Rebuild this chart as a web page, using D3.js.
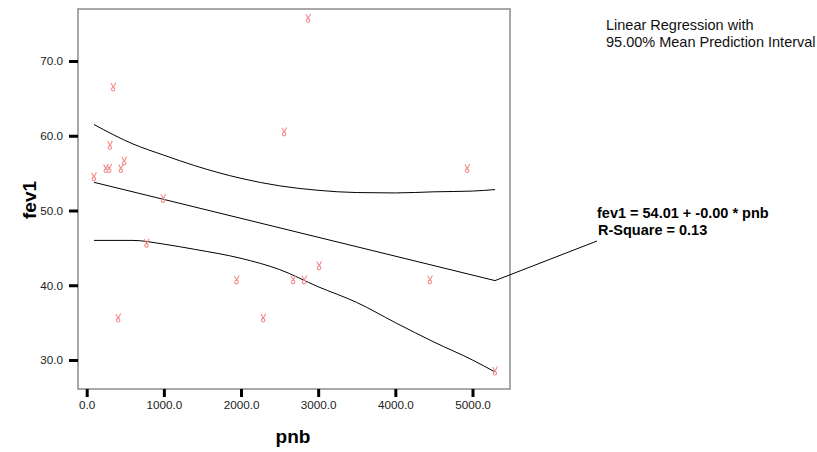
<!DOCTYPE html>
<html>
<head>
<meta charset="utf-8">
<script src="https://cdn.jsdelivr.net/npm/d3@7"></script>
<style>
  body { margin: 0; background: #fff; }
  svg { display: block; }
  text { font-family: "Liberation Sans", Arial, Helvetica, sans-serif; }
</style>
</head>
<body>
<svg id="chart" width="817" height="452"></svg>
<script>
// Observations: GNP per capita (pnb) against FEV1
const pnb  = [95, 250, 293, 302, 345, 410, 445, 487, 778, 993, 1944, 2289, 2561, 2678, 2820, 2872, 3013, 4449, 4933, 5292];
const fev1 = [54.5, 55.6, 55.6, 58.7, 66.5, 35.6, 55.6, 56.6, 45.6, 51.6, 40.7, 35.6, 60.5, 40.7, 40.7, 75.7, 42.6, 40.7, 55.6, 28.5];

// Fitted regression line
const fitIntercept = 54.01;
const fitSlope = -0.00253;
const rSquare = 0.13;

// 95% mean prediction interval
const bandPnb   = [95, 600, 1000, 1400, 2000, 2500, 3000, 3500, 4000, 4500, 5000, 5292];
const bandUpper = [61.5, 58.9, 57.4, 56.0, 54.3, 53.3, 52.7, 52.4, 52.35, 52.5, 52.6, 52.8];
const bandLower = [46.0, 46.0, 45.5, 44.8, 43.6, 42.1, 39.8, 37.7, 35.0, 32.4, 30.0, 28.4];

// Axis ticks
const xTicks = [0, 1000, 2000, 3000, 4000, 5000];
const yTicks = [30, 40, 50, 60, 70];

const svg = d3.select("#chart");

const frame = { left: 78, top: 9, right: 510, bottom: 389 };
const x = d3.scaleLinear().domain([0, 5000]).range([86.7, 472.5]);
const y = d3.scaleLinear().domain([30, 70]).range([360, 61]);
const fmt = d3.format(".1f");

// Plot frame
svg.append("rect")
  .attr("x", frame.left).attr("y", frame.top)
  .attr("width", frame.right - frame.left).attr("height", frame.bottom - frame.top)
  .attr("fill", "none").attr("stroke", "#8c8c8c").attr("stroke-width", 1.5);

// Axes
const xAxis = svg.append("g")
  .attr("transform", `translate(0,${frame.bottom})`)
  .call(d3.axisBottom(x).tickValues(xTicks).tickFormat(fmt).tickSize(8).tickSizeOuter(0).tickPadding(4));
const yAxis = svg.append("g")
  .attr("transform", `translate(${frame.left},0)`)
  .call(d3.axisLeft(y).tickValues(yTicks).tickFormat(fmt).tickSize(9).tickSizeOuter(0).tickPadding(6));

[xAxis, yAxis].forEach(g => {
  g.select(".domain").remove();
  g.selectAll(".tick line").attr("stroke", "#000").attr("stroke-width", 3);
  g.selectAll(".tick text")
    .attr("fill", "#222")
    .style("font-size", "11.7px")
    .style("font-family", "'Liberation Sans', Arial, sans-serif");
});

// Axis titles
svg.append("text")
  .attr("x", 293).attr("y", 443)
  .attr("text-anchor", "middle")
  .style("font-size", "19px").style("font-weight", "bold")
  .text("pnb");
svg.append("text")
  .attr("transform", "translate(36,200) rotate(-90)")
  .attr("text-anchor", "middle")
  .style("font-size", "19px").style("font-weight", "bold")
  .text("fev1");

// Interval bands and fitted line
const bandLine = d3.line().curve(d3.curveMonotoneX).x(d => x(d[0])).y(d => y(d[1]));
const upperPts = bandPnb.map((p, i) => [p, bandUpper[i]]);
const lowerPts = bandPnb.map((p, i) => [p, bandLower[i]]);
const xMin = d3.min(pnb), xMax = d3.max(pnb);
const fitPts = [xMin, xMax].map(p => [p, fitIntercept + fitSlope * p]);

svg.selectAll("path.fit")
  .data([upperPts, fitPts, lowerPts])
  .join("path")
  .attr("class", "fit")
  .attr("d", bandLine)
  .attr("fill", "none")
  .attr("stroke", "#000")
  .attr("stroke-width", 1);

// Data markers
const marker = "M-2.4,-4.2 L0,0 M2.4,-4.6 L0,0 C-2.8,0.8 -2.2,4.2 0,3.8 C2.2,3.4 2,0.8 0,0";
svg.append("g").selectAll("path")
  .data(pnb.map((p, i) => [p, fev1[i]]))
  .join("path")
  .attr("transform", d => `translate(${x(d[0])},${y(d[1])})`)
  .attr("d", marker)
  .attr("fill", "none")
  .attr("stroke", "#f38b8b")
  .attr("stroke-width", 1.1);

// Equation annotation with leader line
const endPt = fitPts[1];
svg.append("line")
  .attr("x1", x(endPt[0])).attr("y1", y(endPt[1]))
  .attr("x2", 597).attr("y2", 241)
  .attr("stroke", "#000").attr("stroke-width", 1);

const eq = svg.append("text")
  .attr("x", 597).attr("y", 218)
  .style("font-size", "14.5px").style("font-weight", "bold");
eq.append("tspan").attr("x", 597).text(`fev1 = ${fitIntercept.toFixed(2)} + ${fitSlope.toFixed(2)} * pnb`);
eq.append("tspan").attr("x", 598).attr("y", 235).text(`R-Square = ${rSquare.toFixed(2)}`);

// Legend text
const leg = svg.append("text")
  .attr("x", 606).attr("y", 30)
  .attr("fill", "#111")
  .style("font-size", "14.5px");
leg.append("tspan").attr("x", 606).text("Linear Regression with");
leg.append("tspan").attr("x", 606).attr("y", 46.5).text("95.00% Mean Prediction Interval");
</script>
</body>
</html>
